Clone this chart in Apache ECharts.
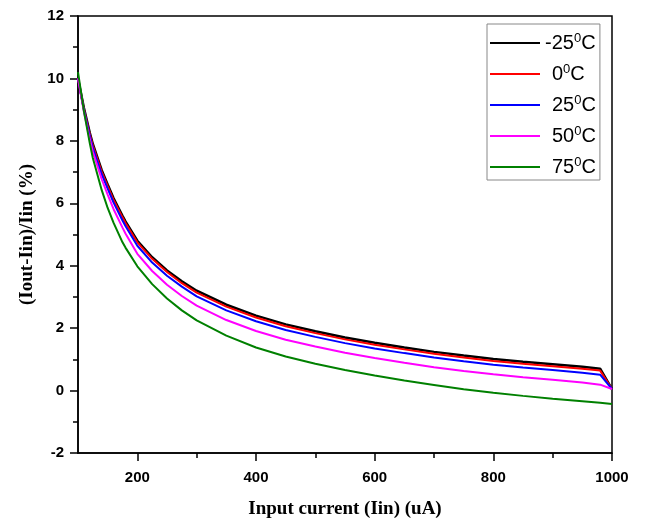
<!DOCTYPE html>
<html>
<head>
<meta charset="utf-8">
<script src="https://cdn.jsdelivr.net/npm/echarts@6/dist/echarts.min.js"></script>
<style>
  html, body { margin: 0; padding: 0; background: #fff; }
  #chart { width: 646px; height: 524px; }
</style>
</head>
<body>
<div id="chart"></div>
<script>
// input current (uA)
const inputCurrent = [100, 110, 120, 125, 140, 150, 160, 175, 180, 200, 225, 250, 275, 300, 350, 400, 450, 500, 550, 600, 650, 700, 750, 800, 850, 900, 950, 980, 1000];

// (Iout-Iin)/Iin (%) at each temperature
const errM25 = [10.0, 9.05, 8.25, 7.9, 7.06, 6.6, 6.16, 5.6, 5.42, 4.8, 4.27, 3.85, 3.5, 3.2, 2.75, 2.4, 2.12, 1.9, 1.7, 1.53, 1.38, 1.24, 1.12, 1.01, 0.92, 0.84, 0.76, 0.70, 0.05];
const err0 = [10.0, 9.01, 8.2, 7.85, 7.01, 6.55, 6.11, 5.55, 5.37, 4.75, 4.22, 3.8, 3.44, 3.14, 2.69, 2.34, 2.06, 1.84, 1.64, 1.47, 1.32, 1.18, 1.06, 0.95, 0.86, 0.78, 0.70, 0.64, 0.05];
const err25 = [10.0, 8.98, 8.15, 7.78, 6.93, 6.47, 6.02, 5.45, 5.27, 4.64, 4.1, 3.68, 3.33, 3.02, 2.57, 2.22, 1.94, 1.72, 1.52, 1.35, 1.2, 1.06, 0.94, 0.83, 0.74, 0.66, 0.57, 0.51, 0.05];
const err50 = [10.0, 8.93, 8.04, 7.65, 6.77, 6.28, 5.81, 5.22, 5.03, 4.38, 3.83, 3.39, 3.03, 2.72, 2.26, 1.91, 1.63, 1.41, 1.21, 1.04, 0.89, 0.75, 0.63, 0.52, 0.43, 0.35, 0.26, 0.19, 0.05];
const err75 = [10.2, 8.95, 7.91, 7.45, 6.42, 5.85, 5.37, 4.75, 4.58, 3.98, 3.41, 2.95, 2.57, 2.25, 1.76, 1.38, 1.09, 0.86, 0.66, 0.48, 0.32, 0.18, 0.04, -0.07, -0.17, -0.26, -0.34, -0.39, -0.43];

const temps = ['-25', '0', '25', '50', '75'];
const colors = ['#000000', '#ff0000', '#0000ff', '#ff00ff', '#008000'];

const xMajorTicks = [200, 400, 600, 800, 1000];
const xMinorTicks = [300, 500, 700, 900];

const chart = echarts.init(document.getElementById('chart'));

const pairs = (ys) => inputCurrent.map((x, i) => [x, ys[i]]);
const allSeries = [errM25, err0, err25, err50, err75];

const tickFont = { fontFamily: 'Liberation Sans', fontWeight: 'bold', fontSize: 15, color: '#000' };
const titleFont = { fontFamily: 'Liberation Serif', fontWeight: 'bold', fontSize: 19, color: '#000' };

const option = {
  animation: false,
  backgroundColor: '#fff',
  grid: {
    left: 78, right: 34, top: 16, bottom: 71,
    show: true, borderColor: '#000', borderWidth: 1.5
  },
  legend: {
    orient: 'vertical',
    left: 487, top: 24,
    padding: [8, 4, 3, 3],
    itemGap: 10,
    itemWidth: 50,
    itemHeight: 14,
    backgroundColor: '#fff',
    borderColor: '#888',
    borderWidth: 1,
    borderRadius: 0,
    data: temps.map(t => ({ name: t, icon: 'path://M0,0 L50,0 L50,2 L0,2 Z' })),
    formatter: (name) => (name.charAt(0) === '-' ? '' : '{g|}') + '{a|' + name + '}{s|0}{a|C}',
    textStyle: {
      rich: {
        a: { fontFamily: 'Liberation Sans', fontSize: 20, color: '#000', lineHeight: 22 },
        s: { fontFamily: 'Liberation Sans', fontSize: 13, color: '#000', verticalAlign: 'top', lineHeight: 13 },
        g: { width: 7 }
      }
    }
  },
  xAxis: [
    {
      type: 'value', min: 100, max: 1000,
      name: 'Input current (Iin) (uA)',
      nameLocation: 'middle', nameGap: 47,
      nameTextStyle: titleFont,
      splitLine: { show: false },
      axisLine: { show: true, onZero: false, lineStyle: { color: '#000', width: 1.5 } },
      axisTick: { show: true, inside: false, length: 8, customValues: xMajorTicks, lineStyle: { color: '#000', width: 1.5 } },
      axisLabel: { margin: 17, customValues: xMajorTicks, formatter: (v) => String(v), ...tickFont }
    },
    {
      type: 'value', min: 100, max: 1000, position: 'bottom',
      splitLine: { show: false },
      axisLine: { show: false, onZero: false },
      axisTick: { show: true, inside: false, length: 5, customValues: xMinorTicks, lineStyle: { color: '#000', width: 1.5 } },
      axisLabel: { show: false }
    }
  ],
  yAxis: {
    type: 'value', min: -2, max: 12, interval: 2,
    name: '(Iout-Iin)/Iin (%)',
    nameLocation: 'middle', nameGap: 41,
    nameTextStyle: titleFont,
    splitLine: { show: false },
    axisLine: { show: true, onZero: false, lineStyle: { color: '#000', width: 1.5 } },
    axisTick: { show: true, inside: false, length: 8, lineStyle: { color: '#000', width: 1.5 } },
    minorTick: { show: true, splitNumber: 2, length: 5, lineStyle: { color: '#000', width: 1.5 } },
    axisLabel: { margin: 14, ...tickFont }
  },
  series: allSeries.map((ys, i) => ({
    name: temps[i],
    type: 'line',
    xAxisIndex: 0,
    data: pairs(ys),
    showSymbol: false,
    symbol: 'none',
    color: colors[i],
    lineStyle: { color: colors[i], width: i === 0 ? 2.5 : 2 }
  }))
};

chart.setOption(option);
</script>
</body>
</html>
